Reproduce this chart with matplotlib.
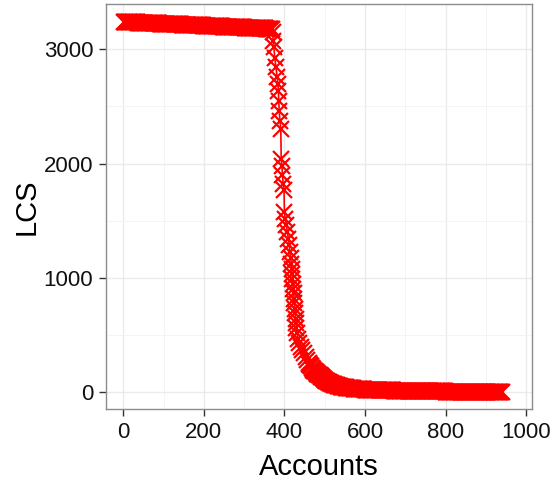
import matplotlib
matplotlib.use('Agg')
import matplotlib.pyplot as plt
from matplotlib.ticker import MultipleLocator

plt.rcParams['font.family'] = ['Liberation Sans', 'DejaVu Sans']

# upper plateau, every 2nd account
top_accounts = list(range(1, 370, 2))
top_lcs = [3240, 3240, 3240, 3239, 3239, 3239, 3238, 3238, 3238, 3237,
           3237, 3237, 3236, 3236, 3236, 3235, 3235, 3235, 3234, 3234,
           3234, 3233, 3233, 3233, 3232, 3232, 3232, 3231, 3231, 3231,
           3230, 3230, 3230, 3229, 3229, 3229, 3228, 3228, 3228, 3227,
           3227, 3227, 3226, 3226, 3226, 3225, 3225, 3225, 3224, 3224,
           3224, 3223, 3223, 3223, 3222, 3222, 3222, 3221, 3221, 3221,
           3220, 3220, 3220, 3219, 3219, 3219, 3218, 3218, 3218, 3217,
           3217, 3217, 3216, 3216, 3216, 3215, 3215, 3215, 3214, 3214,
           3214, 3213, 3213, 3213, 3212, 3212, 3212, 3211, 3211, 3211,
           3210, 3210, 3210, 3209, 3209, 3209, 3208, 3208, 3208, 3207,
           3207, 3207, 3206, 3206, 3206, 3205, 3205, 3205, 3204, 3204,
           3204, 3203, 3203, 3203, 3202, 3202, 3202, 3201, 3201, 3201,
           3200, 3200, 3200, 3199, 3199, 3199, 3198, 3198, 3198, 3197,
           3197, 3197, 3196, 3196, 3196, 3195, 3195, 3195, 3194, 3194,
           3194, 3193, 3193, 3193, 3192, 3192, 3192, 3191, 3191, 3191,
           3190, 3190, 3190, 3189, 3189, 3189, 3188, 3188, 3188, 3187,
           3187, 3187, 3186, 3186, 3186, 3185, 3185, 3185, 3184, 3184,
           3184, 3183, 3183, 3183, 3182, 3182, 3182, 3181, 3181, 3180,
           3180, 3179, 3178, 3176, 3174]

# the drop
drop_accounts = [371, 372, 374, 376, 379, 382, 384, 385, 386, 387,
                 389, 391, 392, 394, 395, 397, 399, 400, 402, 405,
                 407, 410, 412, 414, 416, 417, 418, 419, 420, 421,
                 422, 423, 424, 425, 426, 427, 428, 429, 430, 432,
                 434, 437, 440, 444, 448, 453, 457, 460, 462, 464,
                 466, 468, 470, 472, 474, 476, 478, 480, 482, 484,
                 486, 488, 490, 492, 494, 496, 498, 500]
drop_lcs = [3150, 3074, 3016, 2928, 2841, 2754, 2696, 2638, 2550, 2463,
            2376, 2304, 2042, 1983, 1896, 1824, 1766, 1576, 1518, 1460,
            1402, 1344, 1286, 1227, 1170, 1126, 1080, 1038, 990, 951,
            905, 864, 820, 777, 730, 689, 645, 602, 560, 515,
            470, 428, 395, 369, 340, 311, 280, 260, 250, 238,
            226, 215, 205, 197, 190, 183, 176, 170, 164, 158,
            153, 148, 142, 137, 132, 124, 117, 110]

# lower tail, every 2nd account
tail_accounts = list(range(502, 941, 2))
tail_lcs = [105, 100, 96, 92, 88, 84, 81, 78, 75, 72,
            69, 67, 64, 62, 60, 58, 56, 54, 52, 50,
            49, 47, 46, 44, 43, 42, 41, 40, 39, 38,
            37, 36, 35, 34, 33, 32, 32, 31, 30, 30,
            29, 28, 28, 27, 27, 26, 26, 25, 25, 24,
            24, 24, 23, 23, 23, 22, 22, 22, 21, 21,
            21, 21, 20, 20, 20, 20, 19, 19, 19, 19,
            18, 18, 18, 18, 18, 17, 17, 17, 17, 17,
            16, 16, 16, 16, 16, 15, 15, 15, 15, 15,
            15, 14, 14, 14, 14, 14, 14, 13, 13, 13,
            13, 13, 13, 13, 12, 12, 12, 12, 12, 12,
            12, 11, 11, 11, 11, 11, 11, 11, 10, 10,
            10, 10, 10, 10, 10, 9, 9, 9, 9, 9,
            9, 9, 9, 8, 8, 8, 8, 8, 8, 8,
            8, 7, 7, 7, 7, 7, 7, 7, 7, 6,
            6, 6, 6, 6, 6, 6, 6, 5, 5, 5,
            5, 5, 5, 5, 5, 4, 4, 4, 4, 4,
            4, 4, 4, 3, 3, 3, 3, 3, 3, 3,
            3, 3, 2, 2, 2, 2, 2, 2, 2, 2,
            2, 2, 1, 1, 1, 1, 1, 1, 1, 1,
            1, 1, 1, 1, 0, 0, 0, 0, 0, 0,
            0, 0, 0, 0, 0, 0, 0, 0, 0, 0]

accounts = top_accounts + drop_accounts + tail_accounts
lcs = top_lcs + drop_lcs + tail_lcs

x_ticks = [0, 200, 400, 600, 800, 1000]
y_ticks = [0, 1000, 2000, 3000]

fig = plt.figure(figsize=(5.6, 4.88), dpi=100)
ax = fig.add_axes([105.8 / 560, 78.7 / 488, (531.7 - 105.8) / 560, (409.3 - 4) / 488])

ax.plot(accounts, lcs, color='red', lw=1.2, marker='x', ms=11.5, mew=1.6,
        snap=False, zorder=3)

ax.set_xlim(-43.5, 1014)
ax.set_ylim(-149, 3396)
ax.set_xticks(x_ticks)
ax.set_yticks(y_ticks)
ax.xaxis.set_minor_locator(MultipleLocator(100))
ax.yaxis.set_minor_locator(MultipleLocator(500))

ax.grid(which='major', color='#ebebeb', lw=1.0, zorder=0)
ax.grid(which='minor', color='#f4f4f4', lw=0.7, zorder=0)
ax.set_axisbelow(True)

for s in ax.spines.values():
    s.set_color('#8c8c8c')
    s.set_linewidth(1.0)

ax.tick_params(which='major', length=5, width=1.0, color='#333333',
               labelsize=16, labelcolor='#111111', pad=4)
ax.tick_params(which='minor', length=0)

ax.set_xlabel('Accounts', fontsize=21, labelpad=7)
ax.set_ylabel('LCS', fontsize=21, labelpad=2)

fig.savefig('out.png', dpi=100)
